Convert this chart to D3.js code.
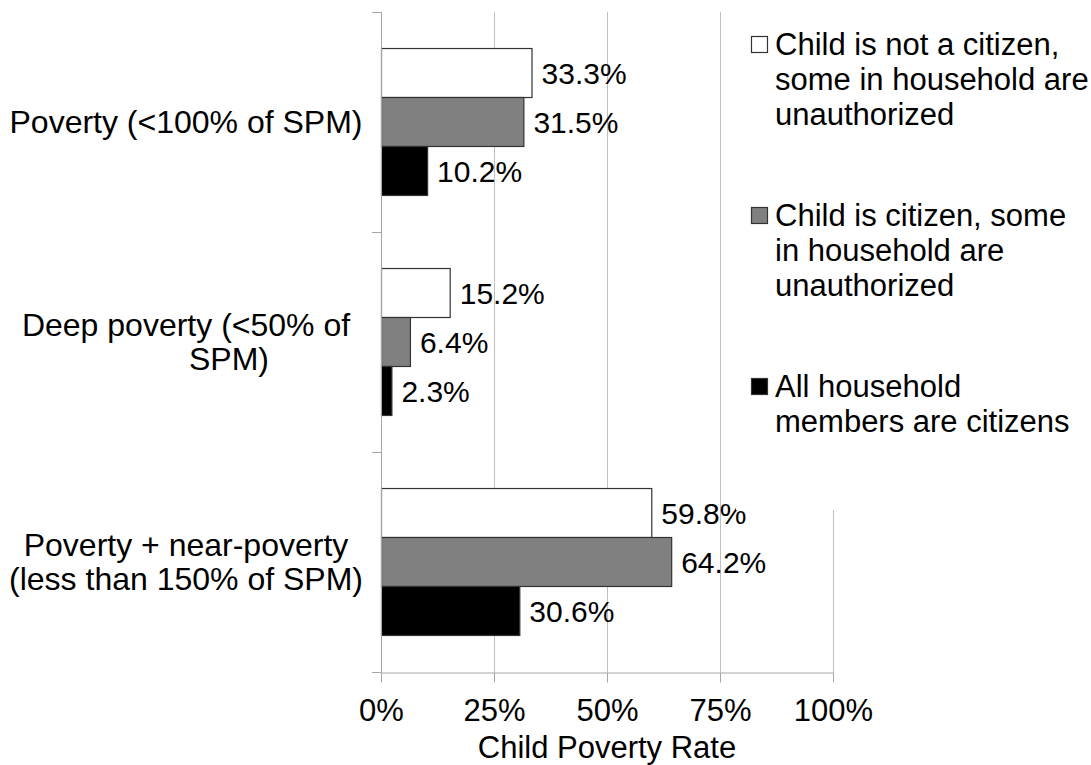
<!DOCTYPE html>
<html>
<head>
<meta charset="utf-8">
<script src="https://cdn.jsdelivr.net/npm/d3@7"></script>
<style>
  html, body { margin: 0; padding: 0; background: #ffffff; }
  svg { display: block; }
</style>
</head>
<body>
<script>
const categories = ['Poverty (<100% of SPM)', 'Deep poverty (<50% of SPM)', 'Poverty + near-poverty (less than 150% of SPM)'];
const categoryLines = [
  ['Poverty (<100% of SPM)'],
  ['Deep poverty (<50% of', 'SPM)'],
  ['Poverty + near-poverty', '(less than 150% of SPM)']
];
const seriesNames = ['notCitizen', 'citizenMixed', 'allCitizens'];
const seriesLabels = [
  ['Child is not a citizen,', 'some in household are', 'unauthorized'],
  ['Child is citizen, some', 'in household are', 'unauthorized'],
  ['All household', 'members are citizens']
];
const notCitizen = [33.3, 15.2, 59.8];
const citizenMixed = [31.5, 6.4, 64.2];
const allCitizens = [10.2, 2.3, 30.6];
const xTicks = [0, 25, 50, 75, 100];

const FONT = '"Liberation Sans", Arial, sans-serif';

const palette = {
  notCitizen: '#ffffff',
  citizenMixed: '#808080',
  allCitizens: '#000000',
  barStroke: '#333333',
  grid: '#c0c0c0',
  axis: '#a6a6a6',
  text: '#000000'
};

const width = 1091;
const height = 765;
const margin = { top: 12, right: 258, bottom: 93, left: 381 };
const innerWidth = width - margin.left - margin.right;
const innerHeight = height - margin.top - margin.bottom;

const values = { notCitizen, citizenMixed, allCitizens };
const rows = categories.map((c, i) => ({
  category: c,
  lines: categoryLines[i],
  bars: seriesNames.map(s => ({ series: s, value: values[s][i] }))
}));

const svg = d3.select('body').append('svg')
  .attr('width', width)
  .attr('height', height)
  .attr('font-family', FONT)
  .style('background', '#ffffff');

const chart = svg.append('g')
  .attr('transform', `translate(${margin.left},${margin.top})`);

const x = d3.scaleLinear().domain([0, 100]).range([0, innerWidth]);
const y0 = d3.scaleBand().domain(categories).range([0, innerHeight]);
const y1 = d3.scaleBand().domain(seriesNames)
  .range([y0.bandwidth() * 0.166, y0.bandwidth() * 0.834]);

// vertical gridlines
chart.append('g')
  .selectAll('line')
  .data(xTicks.slice(1))
  .enter()
  .append('line')
  .attr('x1', d => x(d) + 0.5)
  .attr('x2', d => x(d) + 0.5)
  .attr('y1', 0)
  .attr('y2', innerHeight)
  .attr('stroke', palette.grid)
  .attr('stroke-width', 1);

// bars
const groups = chart.selectAll('g.group')
  .data(rows)
  .enter()
  .append('g')
  .attr('class', 'group')
  .attr('transform', d => `translate(0,${y0(d.category)})`);

groups.selectAll('rect')
  .data(d => d.bars)
  .enter()
  .append('rect')
  .attr('x', 0.5)
  .attr('y', d => y1(d.series))
  .attr('width', d => x(d.value))
  .attr('height', y1.bandwidth())
  .attr('fill', d => palette[d.series])
  .attr('stroke', palette.barStroke)
  .attr('stroke-width', 1.2);

groups.selectAll('text.bar-label')
  .data(d => d.bars)
  .enter()
  .append('text')
  .attr('class', 'bar-label')
  .attr('x', d => x(d.value) + 10)
  .attr('y', d => y1(d.series) + y1.bandwidth() / 2 + 11)
  .attr('font-family', FONT)
  .attr('font-size', 30)
  .attr('fill', palette.text)
  .text(d => d.value.toFixed(1) + '%');

// legend background hides the top of the 100% gridline
svg.append('rect')
  .attr('x', 736)
  .attr('y', 0)
  .attr('width', width - 736)
  .attr('height', 510)
  .attr('fill', '#ffffff');

// left axis
const yAxis = chart.append('g');
yAxis.append('line')
  .attr('x1', 0.5).attr('x2', 0.5)
  .attr('y1', 0).attr('y2', innerHeight)
  .attr('stroke', palette.axis);
yAxis.selectAll('line.tick')
  .data(d3.range(categories.length + 1))
  .enter()
  .append('line')
  .attr('class', 'tick')
  .attr('x1', -9).attr('x2', 0.5)
  .attr('y1', i => (i < categories.length ? y0(categories[i]) : innerHeight) + 0.5)
  .attr('y2', i => (i < categories.length ? y0(categories[i]) : innerHeight) + 0.5)
  .attr('stroke', palette.axis);

// bottom axis
const xAxis = chart.append('g')
  .attr('transform', `translate(0,${innerHeight + 0.5})`)
  .call(d3.axisBottom(x).tickValues(xTicks).tickSize(10).tickSizeOuter(0).tickFormat(d => d + '%'));
xAxis.attr('font-family', FONT).attr('font-size', 31);
xAxis.select('.domain').attr('stroke', palette.axis);
xAxis.selectAll('.tick line').attr('stroke', palette.axis);
xAxis.selectAll('.tick text')
  .attr('font-size', 31)
  .attr('font-family', FONT)
  .attr('fill', palette.text)
  .attr('dy', null)
  .attr('y', 48);

// category labels (Excel centres each wrapped line; the short "SPM)" line sits further right)
const catLabels = svg.append('g');
rows.forEach(r => {
  const cy = margin.top + y0(r.category) + y0.bandwidth() / 2;
  const n = r.lines.length;
  const t = catLabels.append('text')
    .attr('text-anchor', 'middle')
    .attr('font-family', FONT)
    .attr('font-size', 32)
    .attr('fill', palette.text);
  r.lines.forEach((line, i) => {
    t.append('tspan')
      .attr('x', line === 'SPM)' ? 229 : 186)
      .attr('y', cy + 11 + (i - (n - 1) / 2) * 34)
      .text(line);
  });
});

// axis title
svg.append('text')
  .attr('x', margin.left + innerWidth / 2)
  .attr('y', 758)
  .attr('text-anchor', 'middle')
  .attr('font-family', FONT)
  .attr('font-size', 31)
  .attr('fill', palette.text)
  .text('Child Poverty Rate');

// legend
const legend = svg.append('g').attr('transform', 'translate(751,55)');
seriesNames.forEach((s, i) => {
  const g = legend.append('g').attr('transform', `translate(0,${i * 171})`);
  g.append('rect')
    .attr('x', 0.5)
    .attr('y', -18.5)
    .attr('width', 16)
    .attr('height', 16)
    .attr('fill', palette[s])
    .attr('stroke', palette.barStroke)
    .attr('stroke-width', 1.2);
  const t = g.append('text')
    .attr('font-family', FONT)
    .attr('font-size', 31)
    .attr('fill', palette.text);
  seriesLabels[i].forEach((line, j) => {
    t.append('tspan')
      .attr('x', 24)
      .attr('y', j * 35)
      .text(line);
  });
});
</script>
</body>
</html>
